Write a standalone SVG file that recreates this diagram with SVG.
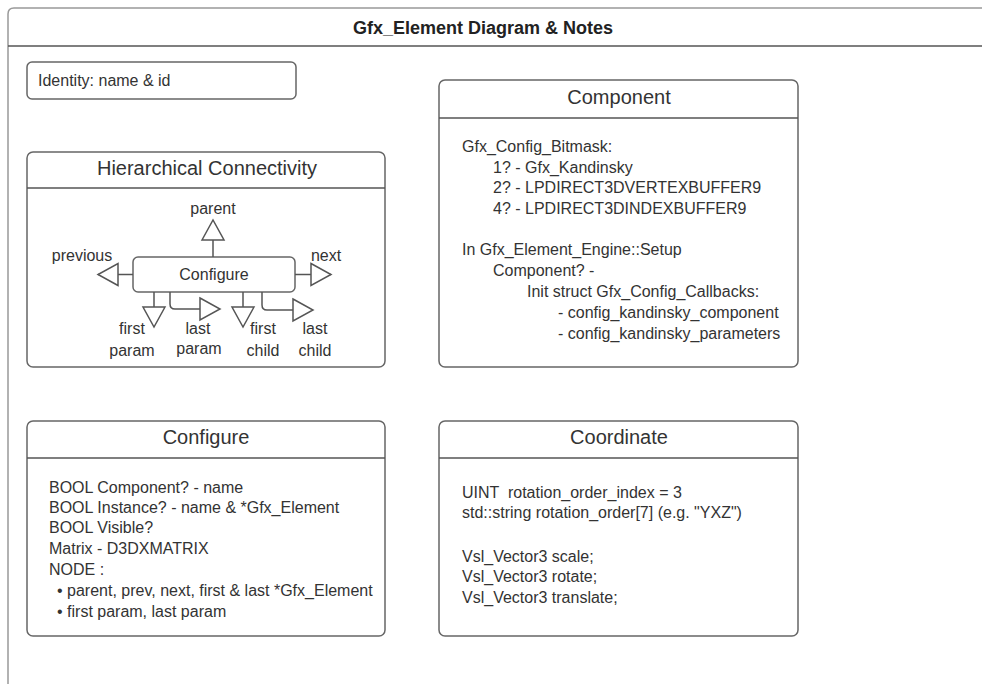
<svg xmlns="http://www.w3.org/2000/svg" width="982" height="684" viewBox="0 0 982 684">
<defs>
<style>
text{font-family:"Liberation Sans",Arial,sans-serif;fill:#333;font-size:16px}
.title{font-size:20px;text-anchor:middle}
.main{font-size:18px;font-weight:bold;text-anchor:middle;fill:#222}
.box{fill:#fff;stroke:#666;stroke-width:1.5}
.sep{stroke:#555;stroke-width:1.5}
.lbl{text-anchor:middle}
.conn path{fill:none;stroke:#555;stroke-width:1.5}
</style>
<marker id="tri" viewBox="0 0 20 22" refX="20" refY="11" markerWidth="20" markerHeight="22" markerUnits="userSpaceOnUse" orient="auto" overflow="visible">
<path d="M0,0 L20,11 L0,22 Z" fill="#fff" stroke="#555" stroke-width="1.5" stroke-linejoin="miter"/>
</marker>
</defs>
<rect width="982" height="684" fill="#fff"/>
<g id="frame">
<path d="M8,700 V14 Q8,8 14,8 H990" fill="none" stroke="#999" stroke-width="1.5"/>
<line x1="8" y1="46" x2="990" y2="46" class="sep" stroke="#777"/>
<text x="483" y="34" class="main">Gfx_Element Diagram &amp; Notes</text>
</g>
<g id="identity">
<rect x="27" y="62" width="269" height="37" rx="5" class="box"/>
<text x="38" y="86">Identity: name &amp; id</text>
</g>
<g id="hierarchical">
<rect x="27" y="152" width="358" height="215" rx="6" class="box"/>
<line x1="27" y1="188" x2="385" y2="188" class="sep"/>
<text x="207" y="175" class="title">Hierarchical Connectivity</text>
</g>
<g id="configure-node">
<rect x="133" y="257" width="162" height="35" rx="5" class="box"/>
<text x="214" y="280" class="lbl">Configure</text>
</g>
<g class="conn" id="connectors">
<path d="M213,257 V220" marker-end="url(#tri)"/>
<path d="M133,274.5 H98" marker-end="url(#tri)"/>
<path d="M295,274.5 H331" marker-end="url(#tri)"/>
<path d="M154,292 V327" marker-end="url(#tri)"/>
<path d="M170,292 V304 Q170,309 175,309 H220" marker-end="url(#tri)"/>
<path d="M243,292 V327" marker-end="url(#tri)"/>
<path d="M262,292 V305 Q262,310 267,310 H313" marker-end="url(#tri)"/>
</g>
<g id="labels">
<text x="213" y="214" class="lbl">parent</text>
<text x="82" y="261" class="lbl">previous</text>
<text x="326" y="261" class="lbl">next</text>
<text x="132" y="334" class="lbl">first</text>
<text x="132" y="356" class="lbl">param</text>
<text x="198" y="334" class="lbl">last</text>
<text x="199" y="354" class="lbl">param</text>
<text x="263" y="334" class="lbl">first</text>
<text x="263" y="356" class="lbl">child</text>
<text x="315" y="334" class="lbl">last</text>
<text x="315" y="356" class="lbl">child</text>
</g>
<g id="component">
<rect x="439" y="80" width="359" height="287" rx="6" class="box"/>
<line x1="439" y1="118" x2="798" y2="118" class="sep"/>
<text x="619" y="104" class="title">Component</text>
<text x="462" y="152">Gfx_Config_Bitmask:</text>
<text x="493" y="173">1? - Gfx_Kandinsky</text>
<text x="493" y="193">2? - LPDIRECT3DVERTEXBUFFER9</text>
<text x="493" y="214">4? - LPDIRECT3DINDEXBUFFER9</text>
<text x="462" y="255">In Gfx_Element_Engine::Setup</text>
<text x="493" y="276">Component? -</text>
<text x="527" y="297">Init struct Gfx_Config_Callbacks:</text>
<text x="558" y="318">- config_kandinsky_component</text>
<text x="558" y="339">- config_kandinsky_parameters</text>
</g>
<g id="configure">
<rect x="27" y="421" width="358" height="215" rx="6" class="box"/>
<line x1="27" y1="458" x2="385" y2="458" class="sep"/>
<text x="206" y="444" class="title">Configure</text>
<text x="49" y="493">BOOL Component? - name</text>
<text x="49" y="513">BOOL Instance? - name &amp; *Gfx_Element</text>
<text x="49" y="533">BOOL Visible?</text>
<text x="49" y="554">Matrix - D3DXMATRIX</text>
<text x="49" y="575">NODE :</text>
<text x="57" y="596">• parent, prev, next, first &amp; last *Gfx_Element</text>
<text x="57" y="617">• first param, last param</text>
</g>
<g id="coordinate">
<rect x="439" y="421" width="359" height="215" rx="6" class="box"/>
<line x1="439" y1="458" x2="798" y2="458" class="sep"/>
<text x="619" y="444" class="title">Coordinate</text>
<text x="462" y="498" xml:space="preserve">UINT  rotation_order_index = 3</text>
<text x="462" y="518">std::string rotation_order[7] (e.g. "YXZ")</text>
<text x="462" y="562">Vsl_Vector3 scale;</text>
<text x="462" y="582">Vsl_Vector3 rotate;</text>
<text x="462" y="603">Vsl_Vector3 translate;</text>
</g>
</svg>
